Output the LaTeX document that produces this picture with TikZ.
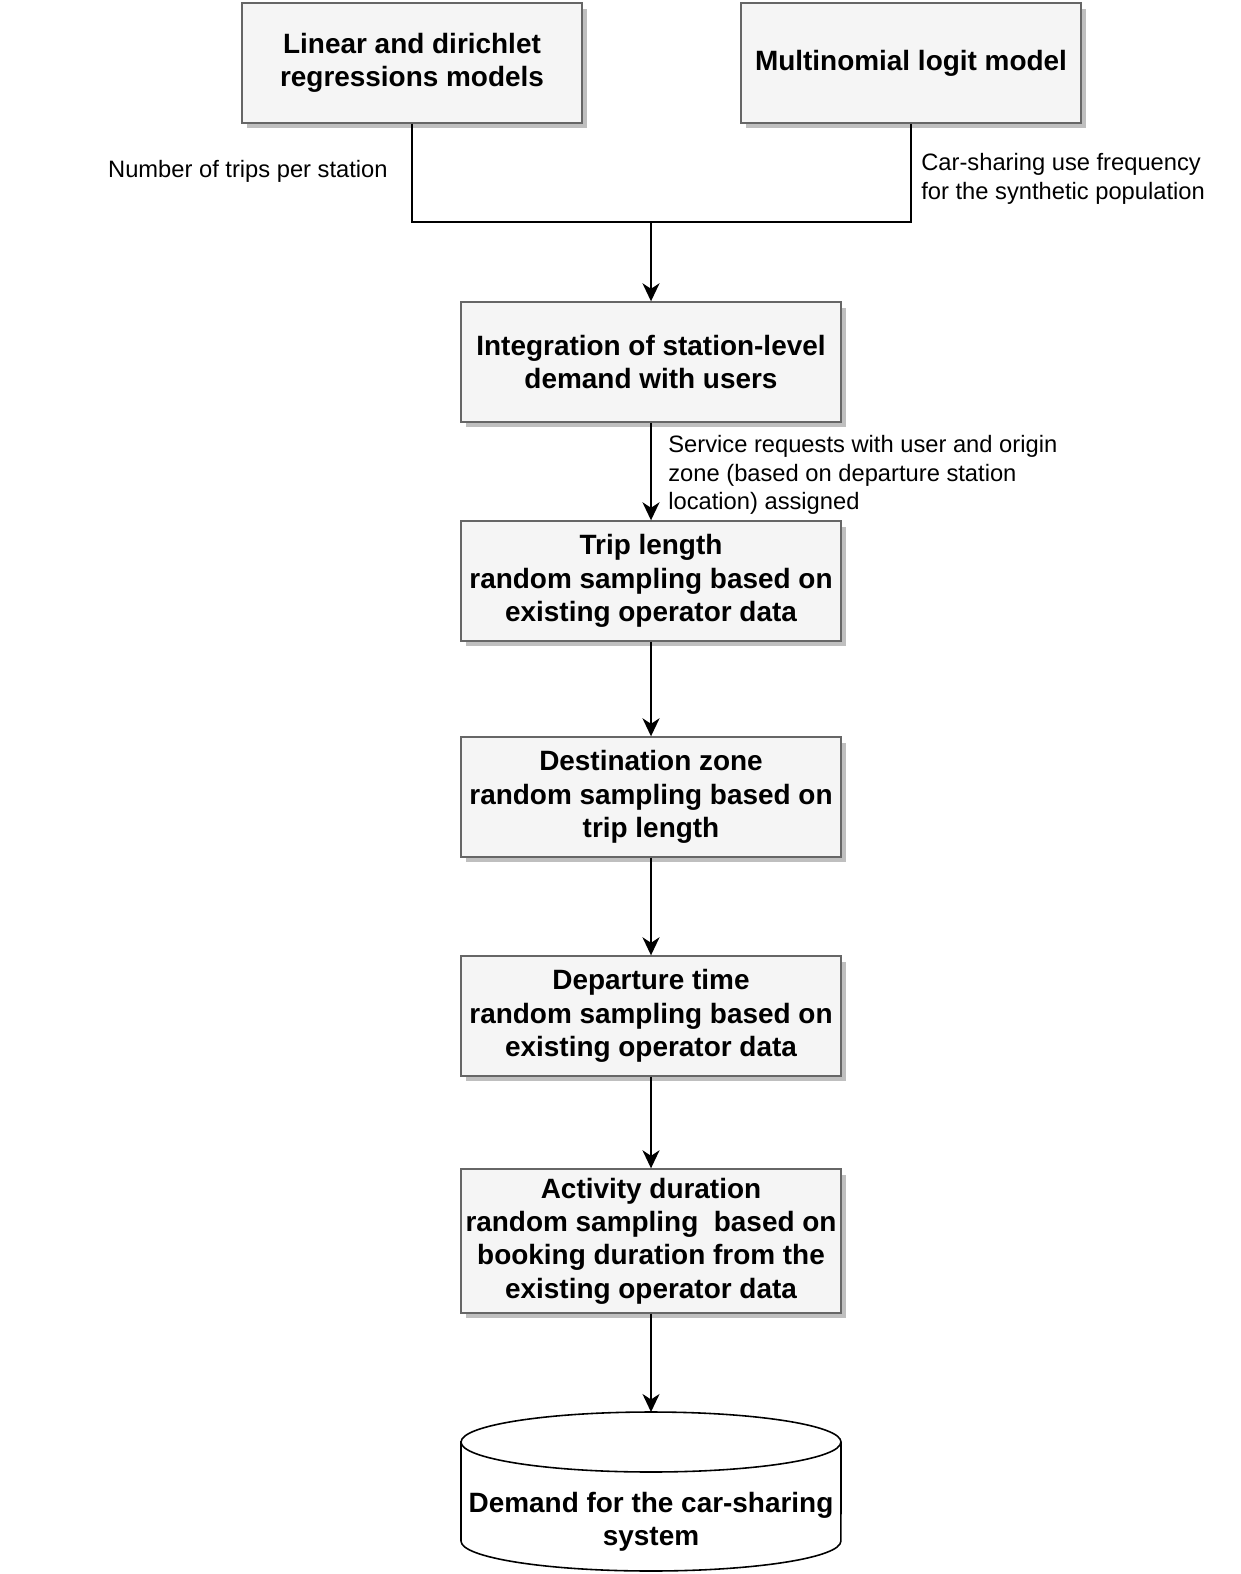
\documentclass[tikz,border=0pt]{standalone}
\usepackage{fontspec}
\setmainfont{Liberation Sans}
\usetikzlibrary{arrows.meta,shadows,calc}
\definecolor{boxfill}{HTML}{F5F5F5}
\definecolor{boxline}{HTML}{666666}
\definecolor{shadowgray}{HTML}{BFBFBF}
\tikzset{
  procbox/.style={draw=boxline, fill=boxfill, line width=0.8pt, inner sep=0pt,
    minimum width=7.6cm, minimum height=2.4cm, align=center,
    font=\fontsize{15.9}{19}\selectfont\bfseries,
    drop shadow={shadow xshift=0.1cm, shadow yshift=-0.11cm, fill=shadowgray, opacity=1}},
  topbox/.style={procbox, minimum width=6.8cm},
  lbl/.style={font=\fontsize{13.5}{16.2}\selectfont, inner sep=0pt},
  conn/.style={line width=1.3pt, black},
  arr/.style={conn, -{Stealth[length=0.36cm, width=0.34cm, inset=0.11cm]}},
}
\begin{document}
\begin{tikzpicture}[x=0.02cm,y=-0.02cm]
\useasboundingbox (-2,-2) rectangle (1238,1572);
% top boxes
\node[topbox] (lm) at (410,61) {Linear and dirichlet\\regressions models};
\node[topbox] (rm) at (909,61) {Multinomial logit model};
% main column
\node[procbox] (b1) at (649,360) {Integration of station-level\\demand with users};
\node[procbox] (b2) at (649,579) {Trip length\\random sampling based on\\existing operator data};
\node[procbox] (b3) at (649,795) {Destination zone\\random sampling based on\\trip length};
\node[procbox] (b4) at (649,1014) {Departure time\\random sampling based on\\existing operator data};
\node[procbox, minimum height=2.88cm] (b5) at (649,1239) {Activity duration\\random sampling~ based on\\booking duration from the\\existing operator data};
% cylinder
\coordinate (cyltop) at (649,1410);
\draw[line width=0.9pt, fill=white] (459,1440) -- (459,1539)
   arc[start angle=180, end angle=360, x radius=3.8cm, y radius=0.6cm]
   -- (839,1440)
   arc[start angle=0, end angle=180, x radius=3.8cm, y radius=0.6cm] -- cycle;
\draw[line width=0.9pt] (459,1440)
   arc[start angle=180, end angle=360, x radius=3.8cm, y radius=0.6cm];
\node[align=center, inner sep=0pt, font=\fontsize{15.9}{19}\selectfont\bfseries] (db) at (649,1520) {Demand for the car-sharing\\system};
% connectors
\coordinate (j) at (649,220);
\draw[conn] (lm.south) |- (j) -| (rm.south);
\draw[arr] (j) -- (b1.north);
\draw[arr] (b1.south) -- (b2.north);
\draw[arr] (b2.south) -- (b3.north);
\draw[arr] (b3.south) -- (b4.north);
\draw[arr] (b4.south) -- (b5.north);
\draw[arr] (b5.south) -- (cyltop);
% labels
\node[lbl, anchor=east] (l1) at (386,169) {Number of trips per station};
\node[lbl, anchor=west, align=left] (l2) at (919,177) {Car-sharing use frequency\\for the synthetic population};
\node[lbl, anchor=west, align=left] (l3) at (666,473) {Service requests with user and origin\\zone (based on departure station\\location) assigned};
\end{tikzpicture}
\end{document}
